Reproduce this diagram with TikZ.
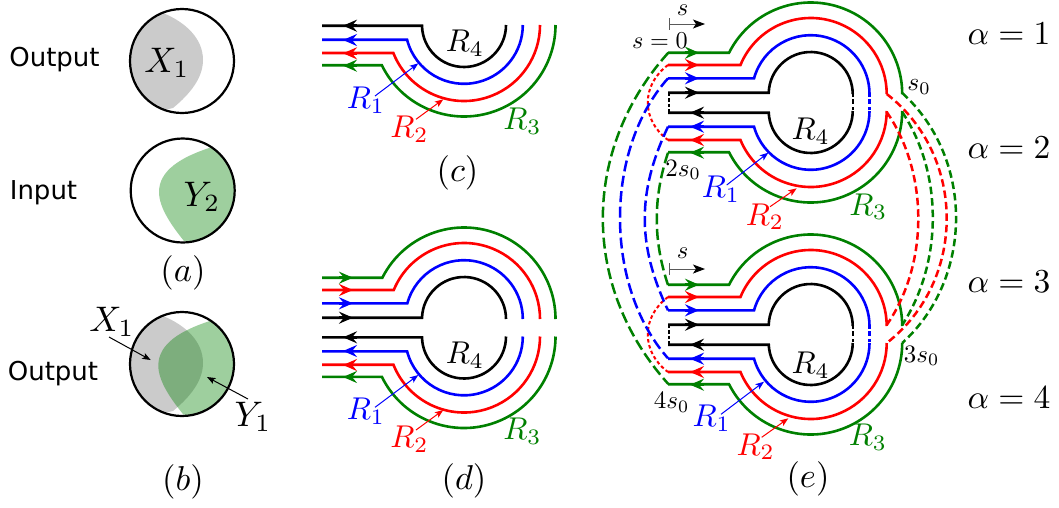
\documentclass[tikz,border=0pt]{standalone}
\usepackage[no-math]{fontspec}
\usetikzlibrary{arrows.meta}
\newfontfamily\djv{DejaVu Sans}
\definecolor{grn}{rgb}{0,0.5,0}
\definecolor{grayblob}{RGB}{203,203,203}
\tikzset{
  lanepath/.style={line width=2.6pt},
  dashout/.style={line width=2.5pt,dash pattern=on 11pt off 4.5pt},
  dashin/.style={line width=2.5pt,dash pattern=on 7.5pt off 4pt},
  dotted link/.style={line width=2pt,dash pattern=on 3.5pt off 2.6pt},
  bigtip/.style={-{Stealth[length=14pt,width=12pt,inset=5pt]},line width=2.6pt},
  thinarrow/.style={-{Stealth[length=8.5pt,width=6.5pt,inset=2pt]},line width=1pt},
  mlab/.style={scale=#1,inner sep=0pt,outer sep=0pt},
  slab/.style={inner sep=0pt,outer sep=0pt,font=\djv\fontsize{26}{30}\selectfont},
  ring/.style={draw=black,line width=2.2pt}
}
% colour, cx, cy, r, y of lane, x of left end
\newcommand\lanelow[6]{%
  \pgfmathsetmacro\tst{180-asin((#5-#3)/#4)}%
  \draw[lanepath,#1] (#6,#5) -- ([shift={(#2,#3)}]\tst:#4) arc[start angle=\tst,end angle=0,radius=#4];}
\newcommand\laneup[6]{%
  \pgfmathsetmacro\tst{180-asin((#5-#3)/#4)}%
  \draw[lanepath,#1] (#6,#5) -- ([shift={(#2,#3)}]\tst:#4) arc[start angle=\tst,end angle=360,radius=#4];}
% colour, x tip, y
\newcommand\tipL[3]{\draw[bigtip,#1] (#2+14,#3) -- (#2,#3);}
\newcommand\tipR[3]{\draw[bigtip,#1] (#2-14,#3) -- (#2,#3);}
% name, colour, start, end
\newcommand\callout[4]{%
  \coordinate (#1-a) at (#3);\coordinate (#1-b) at (#4);
  \draw[thinarrow,#2] (#1-a) -- (#1-b);}
\newcommand\blobgray[2]{%
  \begin{scope}
    \clip (#1,#2) circle[radius=52];
    \fill[grayblob] (163,13+#2-61) .. controls (185,22+#2-61) and (203,38+#2-61) .. (203,60+#2-61)
      .. controls (203,78+#2-61) and (190,94+#2-61) .. (173,108+#2-61) -- (120,120+#2-61) -- (120,0+#2-61) -- cycle;
  \end{scope}}
\newcommand\blobgreen[3]{%
  \begin{scope}
    \clip (#1,#2) circle[radius=52];
    \fill[grn,fill opacity=0.38] (209+#3,148+#2-190.5) .. controls (182+#3,157+#2-190.5) and (159+#3,170+#2-190.5) .. (159+#3,192+#2-190.5)
      .. controls (159+#3,208+#2-190.5) and (172+#3,226+#2-190.5) .. (184+#3,241+#2-190.5) -- (250,250+#2-190.5) -- (250,130+#2-190.5) -- cycle;
  \end{scope}}
% lower half of the four lanes; cx, cy, x left, dy of lanes
\newcommand\lowerfour[4]{%
  \lanelow{black}{#1}{#2}{42}{#4+1.7}{#3}
  \lanelow{blue}{#1}{#2}{58.8}{#4+15.7}{#3}
  \lanelow{red}{#1}{#2}{76}{#4+29}{#3}
  \lanelow{grn}{#1}{#2}{91.5}{#4+41.2}{#3}}
\newcommand\upperfour[4]{%
  \laneup{black}{#1}{#2}{42}{#4-1.3}{#3}
  \laneup{blue}{#1}{#2}{58.8}{#4-15.7}{#3}
  \laneup{red}{#1}{#2}{76}{#4-29}{#3}
  \laneup{grn}{#1}{#2}{91.5}{#4-41.3}{#3}}
\begin{document}
\begin{tikzpicture}[x=1pt,y=-1pt]
\useasboundingbox (0,0) rectangle (1059,507);
% ---------- panels a, b
\blobgray{182}{61}
\draw[ring] (182,61) circle[radius=52];
\blobgreen{182.7}{190.5}{0}
\draw[ring] (182.7,190.5) circle[radius=52];
\blobgray{182}{364}
\blobgreen{182}{364}{-0.7}
\draw[ring] (182,364) circle[radius=52];
\node[slab] (out1) at (54.5,60) {Output};
\node[slab] (inp) at (43.5,192.5) {Input};
\node[slab] (out2) at (53,373.5) {Output};
\node[mlab=3.55] (x1a) at (167,63) {$X_1$};
\node[mlab=3.55] (y2) at (202,197) {$Y_2$};
\node[mlab=3.45] (pa) at (183,273) {$(a)$};
\node[mlab=3.55] (x1b) at (112,322) {$X_1$};
\node[mlab=3.55] (y1) at (253,417) {$Y_1$};
\node[mlab=3.45] (pb) at (183,482) {$(b)$};
\callout{ax}{black}{109,337}{150.7,360}
\callout{ay}{black}{248,399}{207,377}
% ---------- panel c
\lowerfour{464}{25}{322}{24}
\tipL{black}{343}{25.7}\tipL{blue}{343}{40}\tipL{red}{343}{53.3}\tipL{grn}{343}{65.7}
\node[mlab=3.15] (c4) at (465,43.5) {$R_4$};
\node[mlab=3.15,text=blue] (c1) at (366,100) {$R_1$};
\node[mlab=3.15,text=red] (c2) at (409.5,129.5) {$R_2$};
\node[mlab=3.15,text=grn] (c3) at (522.5,121) {$R_3$};
\node[mlab=3.45] (pc) at (457.5,172.5) {$(c)$};
\callout{c1a}{blue}{375,96}{418.3,63.3}
\callout{c2a}{red}{416,119.3}{443.3,99.3}
% ---------- panel d
\lowerfour{464}{336.5}{322}{335.7}
\upperfour{464}{319}{322}{319}
\tipL{black}{343}{337.3}\tipL{blue}{343}{351}\tipL{red}{343}{365}\tipL{grn}{343}{377}
\tipR{black}{353}{317.7}\tipR{blue}{353}{303.3}\tipR{red}{353}{290}\tipR{grn}{353}{277.7}
\node[mlab=3.15] (d4) at (465,355) {$R_4$};
\node[mlab=3.15,text=blue] (d1) at (366,411) {$R_1$};
\node[mlab=3.15,text=red] (d2) at (409.5,439.5) {$R_2$};
\node[mlab=3.15,text=grn] (d3) at (522.5,431.5) {$R_3$};
\node[mlab=3.45] (pd) at (464,481) {$(d)$};
\callout{d1a}{blue}{375,407.3}{418.3,375}
\callout{d2a}{red}{416,430}{443.3,410}
% ---------- panel e : two blocks
\foreach \dy in {0,232}{
  \begin{scope}[shift={(0,\dy)}]
  \lowerfour{810.7}{111}{668}{111}
  \upperfour{810.7}{94}{668}{94}
  \tipR{black}{699}{92.7}\tipR{blue}{699}{78.3}\tipR{red}{699}{65}\tipR{grn}{699}{52.7}
  \tipL{black}{690}{112.7}\tipL{blue}{690}{126.7}\tipL{red}{690}{140}\tipL{grn}{690}{152.7}
  % short links
  \draw[line width=2.4pt,black,dash pattern=on 3pt off 2pt on 5pt off 3pt] (852.7,94) -- (852.7,110.5);
  \draw[line width=2.4pt,blue,dash pattern=on 3pt off 2pt on 5pt off 3pt] (869.5,94) -- (869.5,110.5);
  \draw[line width=2.2pt,black,dash pattern=on 3.5pt off 2pt] (669,92.7) -- (669,112.7);
  \draw[dotted link,red] (668,65) .. controls (641,85) and (641,120) .. (668,140);
  \end{scope}
}
% long dashed links, right
\draw[dashin,red] (886.7,94) .. controls (966.7,156) and (966.7,281) .. (886.7,343);
\draw[dashin,grn] (902.2,93) .. controls (974,158) and (974,278) .. (902.2,343);
\draw[dashin,red] (886.7,112) .. controls (928.8,173) and (928.8,264) .. (886.7,325);
\draw[dashin,grn] (902.2,112) .. controls (943,173) and (943,262) .. (902.2,325);
% long dashed links, left
\draw[dashout,grn] (668.3,52.7) .. controls (581,150) and (581,287) .. (668.3,384);
\draw[dashout,blue] (668,78.3) .. controls (604,150) and (604,286) .. (668,358.3);
\draw[dashout,blue] (668,126.7) .. controls (637,192) and (637,245) .. (668,310.3);
\draw[dashout,grn] (668,152.7) .. controls (653,198) and (653,240) .. (668,285);
% scale bars
\foreach \yb/\nm in {24/u,269/l}{
  \coordinate (bar\nm-a) at (669.5,\yb);
  \coordinate (bar\nm-b) at (705,\yb);
  \draw[line width=1pt,black!65,-{Stealth[length=12pt,width=9pt,inset=3pt,black]}] (bar\nm-a) -- (bar\nm-b);
  \draw[line width=1pt,black!65] (669.5,\yb-6) -- (669.5,\yb+6);
}
\node[mlab=2.45] (s1) at (682.7,10) {$s$};
\node[mlab=2.45] (s2) at (682.7,253) {$s$};
\node[mlab=2.42] (s0eq) at (660,40.7) {$s=0$};
\node[mlab=2.55] (s01) at (919,86.7) {$s_0$};
\node[mlab=2.5] (s02) at (683,170) {$2s_0$};
\node[mlab=2.5] (s03) at (921.7,356) {$3s_0$};
\node[mlab=2.5] (s04) at (671.7,402.7) {$4s_0$};
\node[mlab=3.15] (e4u) at (810.7,131) {$R_4$};
\node[mlab=3.15,text=blue] (e1u) at (721,189) {$R_1$};
\node[mlab=3.15,text=red] (e2u) at (765,216.7) {$R_2$};
\node[mlab=3.15,text=grn] (e3u) at (868.3,206.7) {$R_3$};
\node[mlab=3.15] (e4l) at (810.7,365) {$R_4$};
\node[mlab=3.15,text=blue] (e1l) at (711.7,418) {$R_1$};
\node[mlab=3.15,text=red] (e2l) at (755.7,446.7) {$R_2$};
\node[mlab=3.15,text=grn] (e3l) at (868,437) {$R_3$};
\node[mlab=3.45] (pe) at (808,479) {$(e)$};
\callout{e1ua}{blue}{726.7,185}{768.3,152.7}
\callout{e2ua}{red}{770,206.7}{796.7,188.3}
\callout{e1la}{blue}{721,414.3}{764,381.7}
\callout{e2la}{red}{761.7,437.3}{788.3,418.3}
% alpha
\node[mlab=3.35] (al1) at (1009,34) {$\alpha=1$};
\node[mlab=3.35] (al2) at (1009,148) {$\alpha=2$};
\node[mlab=3.35] (al3) at (1009,282) {$\alpha=3$};
\node[mlab=3.35] (al4) at (1009,398) {$\alpha=4$};
\end{tikzpicture}
\end{document}
